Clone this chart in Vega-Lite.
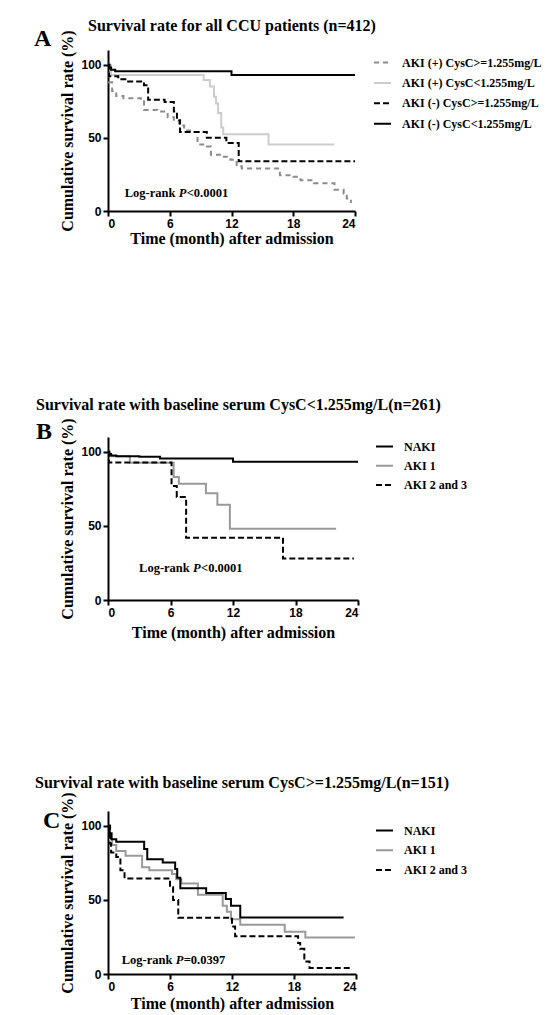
{
  "$schema": "https://vega.github.io/schema/vega-lite/v6.json",
  "background": "white",
  "padding": {"left": 34, "top": 18, "right": 5, "bottom": 5},
  "spacing": 151,
  "config": {
    "view": {"stroke": null},
    "font": "Liberation Serif",
    "axis": {"domainColor": "black", "domainWidth": 2, "tickColor": "black", "tickWidth": 2, "tickSize": 5, "labelFont": "Liberation Sans", "labelFontWeight": "bold", "labelFontSize": 12, "labelColor": "black", "labelPadding": 2, "titleFont": "Liberation Serif", "titleFontWeight": "bold", "titleFontSize": 16, "titleColor": "black", "grid": false},
    "legend": {"orient": "right", "labelFont": "Liberation Serif", "labelFontWeight": "bold", "labelFontSize": 12, "labelColor": "black", "symbolType": "stroke", "symbolSize": 289, "symbolStrokeWidth": 2, "rowPadding": 3.3, "labelOffset": 10},
    "title": {"font": "Liberation Serif", "fontWeight": "bold", "color": "black", "anchor": "start"}
  },
  "resolve": {"scale": {"color": "independent", "strokeDash": "independent"}},
  "datasets": {
    "kmA": [
      {"g": "AKI (+) CysC<1.255mg/L", "t": 0, "s": 100},
      {"g": "AKI (+) CysC<1.255mg/L", "t": 0.3, "s": 93},
      {"g": "AKI (+) CysC<1.255mg/L", "t": 9.3, "s": 89.5},
      {"g": "AKI (+) CysC<1.255mg/L", "t": 9.9, "s": 85},
      {"g": "AKI (+) CysC<1.255mg/L", "t": 10.3, "s": 78},
      {"g": "AKI (+) CysC<1.255mg/L", "t": 10.5, "s": 73.5},
      {"g": "AKI (+) CysC<1.255mg/L", "t": 10.7, "s": 67},
      {"g": "AKI (+) CysC<1.255mg/L", "t": 11.0, "s": 57},
      {"g": "AKI (+) CysC<1.255mg/L", "t": 11.2, "s": 52.5},
      {"g": "AKI (+) CysC<1.255mg/L", "t": 15.6, "s": 45.5},
      {"g": "AKI (+) CysC<1.255mg/L", "t": 22.0, "s": 45.5},
      {"g": "AKI (+) CysC>=1.255mg/L", "t": 0, "s": 100},
      {"g": "AKI (+) CysC>=1.255mg/L", "t": 0.1, "s": 88},
      {"g": "AKI (+) CysC>=1.255mg/L", "t": 0.4, "s": 82},
      {"g": "AKI (+) CysC>=1.255mg/L", "t": 0.8, "s": 78.5},
      {"g": "AKI (+) CysC>=1.255mg/L", "t": 1.5, "s": 77},
      {"g": "AKI (+) CysC>=1.255mg/L", "t": 3.2, "s": 76},
      {"g": "AKI (+) CysC>=1.255mg/L", "t": 3.5, "s": 69},
      {"g": "AKI (+) CysC>=1.255mg/L", "t": 4.8, "s": 68},
      {"g": "AKI (+) CysC>=1.255mg/L", "t": 5.8, "s": 64},
      {"g": "AKI (+) CysC>=1.255mg/L", "t": 6.4, "s": 61.5},
      {"g": "AKI (+) CysC>=1.255mg/L", "t": 6.9, "s": 58.5},
      {"g": "AKI (+) CysC>=1.255mg/L", "t": 7.4, "s": 55},
      {"g": "AKI (+) CysC>=1.255mg/L", "t": 8.3, "s": 54},
      {"g": "AKI (+) CysC>=1.255mg/L", "t": 8.7, "s": 45.5},
      {"g": "AKI (+) CysC>=1.255mg/L", "t": 9.6, "s": 44},
      {"g": "AKI (+) CysC>=1.255mg/L", "t": 10.0, "s": 38.5},
      {"g": "AKI (+) CysC>=1.255mg/L", "t": 10.9, "s": 37},
      {"g": "AKI (+) CysC>=1.255mg/L", "t": 11.9, "s": 35},
      {"g": "AKI (+) CysC>=1.255mg/L", "t": 12.5, "s": 30.5},
      {"g": "AKI (+) CysC>=1.255mg/L", "t": 13.0, "s": 29},
      {"g": "AKI (+) CysC>=1.255mg/L", "t": 16.7, "s": 24.5},
      {"g": "AKI (+) CysC>=1.255mg/L", "t": 18.0, "s": 23.4},
      {"g": "AKI (+) CysC>=1.255mg/L", "t": 18.7, "s": 21},
      {"g": "AKI (+) CysC>=1.255mg/L", "t": 20.0, "s": 19},
      {"g": "AKI (+) CysC>=1.255mg/L", "t": 22.0, "s": 14.5},
      {"g": "AKI (+) CysC>=1.255mg/L", "t": 22.9, "s": 12},
      {"g": "AKI (+) CysC>=1.255mg/L", "t": 23.2, "s": 8.6},
      {"g": "AKI (+) CysC>=1.255mg/L", "t": 23.6, "s": 5.5},
      {"g": "AKI (-) CysC>=1.255mg/L", "t": 0, "s": 100},
      {"g": "AKI (-) CysC>=1.255mg/L", "t": 0.1, "s": 92},
      {"g": "AKI (-) CysC>=1.255mg/L", "t": 1.0, "s": 90},
      {"g": "AKI (-) CysC>=1.255mg/L", "t": 1.8, "s": 88.5},
      {"g": "AKI (-) CysC>=1.255mg/L", "t": 3.5, "s": 86},
      {"g": "AKI (-) CysC>=1.255mg/L", "t": 3.9, "s": 76},
      {"g": "AKI (-) CysC>=1.255mg/L", "t": 5.5, "s": 74.5},
      {"g": "AKI (-) CysC>=1.255mg/L", "t": 6.4, "s": 68},
      {"g": "AKI (-) CysC>=1.255mg/L", "t": 6.7, "s": 62},
      {"g": "AKI (-) CysC>=1.255mg/L", "t": 7.0, "s": 54},
      {"g": "AKI (-) CysC>=1.255mg/L", "t": 9.6, "s": 50},
      {"g": "AKI (-) CysC>=1.255mg/L", "t": 11.5, "s": 46.5},
      {"g": "AKI (-) CysC>=1.255mg/L", "t": 12.7, "s": 34},
      {"g": "AKI (-) CysC>=1.255mg/L", "t": 24, "s": 34},
      {"g": "AKI (-) CysC<1.255mg/L", "t": 0, "s": 100},
      {"g": "AKI (-) CysC<1.255mg/L", "t": 0.15, "s": 98},
      {"g": "AKI (-) CysC<1.255mg/L", "t": 0.3, "s": 96.5},
      {"g": "AKI (-) CysC<1.255mg/L", "t": 0.7, "s": 95.5},
      {"g": "AKI (-) CysC<1.255mg/L", "t": 12.0, "s": 93},
      {"g": "AKI (-) CysC<1.255mg/L", "t": 24, "s": 93}
    ],
    "kmB": [
      {"g": "AKI 1", "t": 0, "s": 100},
      {"g": "AKI 1", "t": 0.2, "s": 97},
      {"g": "AKI 1", "t": 2.1, "s": 92.6},
      {"g": "AKI 1", "t": 6.3, "s": 83},
      {"g": "AKI 1", "t": 6.8, "s": 78.4},
      {"g": "AKI 1", "t": 9.4, "s": 72},
      {"g": "AKI 1", "t": 10.5, "s": 64.3},
      {"g": "AKI 1", "t": 11.7, "s": 48},
      {"g": "AKI 1", "t": 21.9, "s": 48},
      {"g": "AKI 2 and 3", "t": 0, "s": 100},
      {"g": "AKI 2 and 3", "t": 0.1, "s": 92.8},
      {"g": "AKI 2 and 3", "t": 6.1, "s": 77},
      {"g": "AKI 2 and 3", "t": 6.6, "s": 69.5},
      {"g": "AKI 2 and 3", "t": 7.5, "s": 42},
      {"g": "AKI 2 and 3", "t": 16.8, "s": 28},
      {"g": "AKI 2 and 3", "t": 23.6, "s": 28},
      {"g": "NAKI", "t": 0, "s": 100},
      {"g": "NAKI", "t": 0.1, "s": 98.5},
      {"g": "NAKI", "t": 0.3, "s": 97.5},
      {"g": "NAKI", "t": 0.8, "s": 97},
      {"g": "NAKI", "t": 3.0, "s": 96.6},
      {"g": "NAKI", "t": 5.0, "s": 95.5},
      {"g": "NAKI", "t": 12.0, "s": 93.3},
      {"g": "NAKI", "t": 24, "s": 93.3}
    ],
    "kmC": [
      {"g": "AKI 1", "t": 0, "s": 100},
      {"g": "AKI 1", "t": 0.2, "s": 91},
      {"g": "AKI 1", "t": 0.4, "s": 87},
      {"g": "AKI 1", "t": 0.8, "s": 83},
      {"g": "AKI 1", "t": 1.7, "s": 79.8},
      {"g": "AKI 1", "t": 3.3, "s": 72},
      {"g": "AKI 1", "t": 4.0, "s": 70},
      {"g": "AKI 1", "t": 6.2, "s": 67.5},
      {"g": "AKI 1", "t": 6.6, "s": 64},
      {"g": "AKI 1", "t": 7.1, "s": 61},
      {"g": "AKI 1", "t": 8.7, "s": 53.5},
      {"g": "AKI 1", "t": 11.1, "s": 46},
      {"g": "AKI 1", "t": 11.5, "s": 42},
      {"g": "AKI 1", "t": 11.9, "s": 37},
      {"g": "AKI 1", "t": 12.8, "s": 33.3},
      {"g": "AKI 1", "t": 17.1, "s": 28.5},
      {"g": "AKI 1", "t": 19.1, "s": 24.7},
      {"g": "AKI 1", "t": 23.9, "s": 24.7},
      {"g": "AKI 2 and 3", "t": 0, "s": 100},
      {"g": "AKI 2 and 3", "t": 0.2, "s": 88},
      {"g": "AKI 2 and 3", "t": 0.3, "s": 82},
      {"g": "AKI 2 and 3", "t": 0.8, "s": 79},
      {"g": "AKI 2 and 3", "t": 1.2, "s": 70},
      {"g": "AKI 2 and 3", "t": 1.6, "s": 64.5},
      {"g": "AKI 2 and 3", "t": 6.0, "s": 58.5},
      {"g": "AKI 2 and 3", "t": 6.3, "s": 50},
      {"g": "AKI 2 and 3", "t": 6.8, "s": 38},
      {"g": "AKI 2 and 3", "t": 12.0, "s": 32},
      {"g": "AKI 2 and 3", "t": 12.3, "s": 25.4},
      {"g": "AKI 2 and 3", "t": 18.4, "s": 21},
      {"g": "AKI 2 and 3", "t": 18.6, "s": 17},
      {"g": "AKI 2 and 3", "t": 19.0, "s": 8.5},
      {"g": "AKI 2 and 3", "t": 19.5, "s": 4},
      {"g": "AKI 2 and 3", "t": 23.6, "s": 4},
      {"g": "NAKI", "t": 0, "s": 100},
      {"g": "NAKI", "t": 0.15, "s": 95},
      {"g": "NAKI", "t": 0.35, "s": 91},
      {"g": "NAKI", "t": 0.8, "s": 89.2},
      {"g": "NAKI", "t": 3.5, "s": 84.3},
      {"g": "NAKI", "t": 3.8, "s": 77.5},
      {"g": "NAKI", "t": 5.3, "s": 75.3},
      {"g": "NAKI", "t": 6.5, "s": 70.8},
      {"g": "NAKI", "t": 6.7, "s": 65},
      {"g": "NAKI", "t": 7.0, "s": 57.8},
      {"g": "NAKI", "t": 9.5, "s": 54.6},
      {"g": "NAKI", "t": 11.4, "s": 50.6},
      {"g": "NAKI", "t": 11.9, "s": 46},
      {"g": "NAKI", "t": 12.8, "s": 38.2},
      {"g": "NAKI", "t": 22.8, "s": 38.2}
    ]
  },
  "vconcat": [
    {
      "title": {"text": "Survival rate for all CCU patients (n=412)", "fontSize": 16, "frame": "bounds", "dx": 54, "offset": -7},
      "vconcat": [
        {
          "title": {"text": "A", "fontSize": 24, "frame": "group", "dx": -74, "offset": -21.5},
          "width": 247,
          "height": 161,
          "layer": [
            {
              "data": {"name": "kmA"},
              "mark": {"type": "line", "interpolate": "step-after", "strokeWidth": 2},
              "encoding": {
                "x": {"field": "t", "type": "quantitative", "scale": {"domain": [0, 24], "nice": false}, "axis": {"values": [0, 6, 12, 18, 24], "title": "Time (month) after admission", "titlePadding": 1}},
                "y": {"field": "s", "type": "quantitative", "scale": {"domain": [0, 110], "nice": false}, "axis": {"values": [0, 50, 100], "title": "Cumulative survival rate (%)", "titlePadding": 5}},
                "color": {"field": "g", "type": "nominal", "scale": {"domain": ["AKI (+) CysC>=1.255mg/L", "AKI (+) CysC<1.255mg/L", "AKI (-) CysC>=1.255mg/L", "AKI (-) CysC<1.255mg/L"], "range": ["#8c8c8c", "#cccccc", "#000000", "#000000"]}, "legend": {"title": null, "padding": 3, "offset": 11, "rowPadding": 4.4}},
                "strokeDash": {"field": "g", "type": "nominal", "scale": {"domain": ["AKI (+) CysC>=1.255mg/L", "AKI (+) CysC<1.255mg/L", "AKI (-) CysC>=1.255mg/L", "AKI (-) CysC<1.255mg/L"], "range": [[5, 4], [1, 0], [6, 3], [1, 0]]}, "legend": {"title": null, "padding": 3, "offset": 11, "rowPadding": 4.4}}
              }
            },
            {
              "data": {"values": [{"t": 1.62, "s": 12.3}]},
              "mark": {"type": "text", "text": "Log-rank", "align": "left", "baseline": "middle", "font": "Liberation Serif", "fontWeight": "bold", "fontSize": 12.5, "color": "black"},
              "encoding": {"x": {"field": "t", "type": "quantitative"}, "y": {"field": "s", "type": "quantitative"}}
            },
            {
              "data": {"values": [{"t": 1.62, "s": 12.3}]},
              "mark": {"type": "text", "text": "P", "align": "left", "baseline": "middle", "dx": 54, "font": "Liberation Serif", "fontWeight": "bold", "fontStyle": "italic", "fontSize": 12.5, "color": "black"},
              "encoding": {"x": {"field": "t", "type": "quantitative"}, "y": {"field": "s", "type": "quantitative"}}
            },
            {
              "data": {"values": [{"t": 1.62, "s": 12.3}]},
              "mark": {"type": "text", "text": "<0.0001", "align": "left", "baseline": "middle", "dx": 62, "font": "Liberation Serif", "fontWeight": "bold", "fontSize": 12.5, "color": "black"},
              "encoding": {"x": {"field": "t", "type": "quantitative"}, "y": {"field": "s", "type": "quantitative"}}
            }
          ]
        }
      ]
    },
    {
      "spacing": 135,
      "resolve": {"scale": {"color": "independent", "strokeDash": "independent"}},
      "vconcat": [
        {
          "title": {"text": "Survival rate with baseline serum CysC<1.255mg/L(n=261)", "fontSize": 16, "frame": "bounds", "dx": 0, "offset": 4.5},
          "vconcat": [
            {
              "title": {"text": "B", "fontSize": 24, "frame": "group", "dx": -72, "offset": -26.5},
              "width": 250,
              "height": 163,
              "layer": [
                {
                  "data": {"name": "kmB"},
                  "mark": {"type": "line", "interpolate": "step-after", "strokeWidth": 2},
                  "encoding": {
                    "x": {"field": "t", "type": "quantitative", "scale": {"domain": [0, 24], "nice": false}, "axis": {"values": [0, 6, 12, 18, 24], "title": "Time (month) after admission", "titlePadding": 6}},
                    "y": {"field": "s", "type": "quantitative", "scale": {"domain": [0, 110], "nice": false}, "axis": {"values": [0, 50, 100], "title": "Cumulative survival rate (%)", "titlePadding": 5}},
                    "color": {"field": "g", "type": "nominal", "scale": {"domain": ["NAKI", "AKI 1", "AKI 2 and 3"], "range": ["#000000", "#999999", "#000000"]}, "legend": {"title": null, "padding": 0, "offset": 13, "rowPadding": 3.3}},
                    "strokeDash": {"field": "g", "type": "nominal", "scale": {"domain": ["NAKI", "AKI 1", "AKI 2 and 3"], "range": [[1, 0], [1, 0], [6, 3]]}, "legend": {"title": null, "padding": 0, "offset": 13, "rowPadding": 3.3}}
                  }
                },
                {
                  "data": {"values": [{"t": 2.98, "s": 21.4}]},
                  "mark": {"type": "text", "text": "Log-rank", "align": "left", "baseline": "middle", "font": "Liberation Serif", "fontWeight": "bold", "fontSize": 12.5, "color": "black"},
                  "encoding": {"x": {"field": "t", "type": "quantitative"}, "y": {"field": "s", "type": "quantitative"}}
                },
                {
                  "data": {"values": [{"t": 2.98, "s": 21.4}]},
                  "mark": {"type": "text", "text": "P", "align": "left", "baseline": "middle", "dx": 54, "font": "Liberation Serif", "fontWeight": "bold", "fontStyle": "italic", "fontSize": 12.5, "color": "black"},
                  "encoding": {"x": {"field": "t", "type": "quantitative"}, "y": {"field": "s", "type": "quantitative"}}
                },
                {
                  "data": {"values": [{"t": 2.98, "s": 21.4}]},
                  "mark": {"type": "text", "text": "<0.0001", "align": "left", "baseline": "middle", "dx": 62, "font": "Liberation Serif", "fontWeight": "bold", "fontSize": 12.5, "color": "black"},
                  "encoding": {"x": {"field": "t", "type": "quantitative"}, "y": {"field": "s", "type": "quantitative"}}
                }
              ]
            }
          ]
        },
        {
          "title": {"text": "Survival rate with baseline serum CysC>=1.255mg/L(n=151)", "fontSize": 16, "frame": "bounds", "dx": -8, "offset": 0.5},
          "vconcat": [
            {
              "title": {"text": "C", "fontSize": 24, "frame": "group", "dx": -65, "offset": -41.5},
              "width": 248,
              "height": 163,
              "layer": [
                {
                  "data": {"name": "kmC"},
                  "mark": {"type": "line", "interpolate": "step-after", "strokeWidth": 2},
                  "encoding": {
                    "x": {"field": "t", "type": "quantitative", "scale": {"domain": [0, 24], "nice": false}, "axis": {"values": [0, 6, 12, 18, 24], "title": "Time (month) after admission", "titlePadding": 3}},
                    "y": {"field": "s", "type": "quantitative", "scale": {"domain": [0, 110], "nice": false}, "axis": {"values": [0, 50, 100], "title": "Cumulative survival rate (%)", "titlePadding": 5}},
                    "color": {"field": "g", "type": "nominal", "scale": {"domain": ["NAKI", "AKI 1", "AKI 2 and 3"], "range": ["#000000", "#999999", "#000000"]}, "legend": {"title": null, "padding": 10, "offset": 6, "rowPadding": 3.8}},
                    "strokeDash": {"field": "g", "type": "nominal", "scale": {"domain": ["NAKI", "AKI 1", "AKI 2 and 3"], "range": [[1, 0], [1, 0], [6, 3]]}, "legend": {"title": null, "padding": 10, "offset": 6, "rowPadding": 3.8}}
                  }
                },
                {
                  "data": {"values": [{"t": 1.32, "s": 9.5}]},
                  "mark": {"type": "text", "text": "Log-rank", "align": "left", "baseline": "middle", "font": "Liberation Serif", "fontWeight": "bold", "fontSize": 12.5, "color": "black"},
                  "encoding": {"x": {"field": "t", "type": "quantitative"}, "y": {"field": "s", "type": "quantitative"}}
                },
                {
                  "data": {"values": [{"t": 1.32, "s": 9.5}]},
                  "mark": {"type": "text", "text": "P", "align": "left", "baseline": "middle", "dx": 54, "font": "Liberation Serif", "fontWeight": "bold", "fontStyle": "italic", "fontSize": 12.5, "color": "black"},
                  "encoding": {"x": {"field": "t", "type": "quantitative"}, "y": {"field": "s", "type": "quantitative"}}
                },
                {
                  "data": {"values": [{"t": 1.32, "s": 9.5}]},
                  "mark": {"type": "text", "text": "=0.0397", "align": "left", "baseline": "middle", "dx": 62, "font": "Liberation Serif", "fontWeight": "bold", "fontSize": 12.5, "color": "black"},
                  "encoding": {"x": {"field": "t", "type": "quantitative"}, "y": {"field": "s", "type": "quantitative"}}
                }
              ]
            }
          ]
        }
      ]
    }
  ]
}
